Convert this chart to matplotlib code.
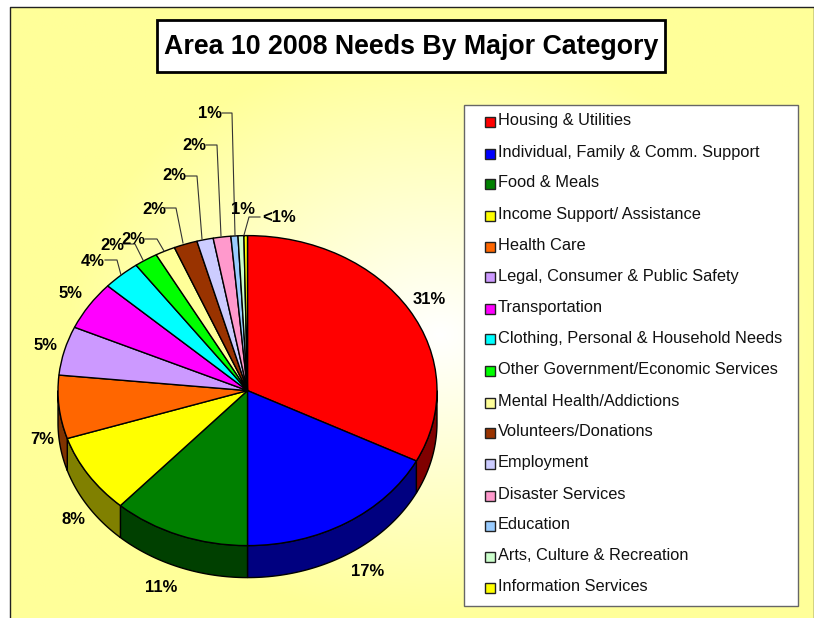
import numpy as np
import matplotlib
matplotlib.use("Agg")
import matplotlib.pyplot as plt
from matplotlib.patches import Rectangle, Polygon

plt.rcParams['font.family'] = ['Liberation Sans', 'DejaVu Sans']

W, H = 814, 618

categories = ["Housing & Utilities", "Individual, Family & Comm. Support", "Food & Meals",
              "Income Support/ Assistance", "Health Care", "Legal, Consumer & Public Safety",
              "Transportation", "Clothing, Personal & Household Needs",
              "Other Government/Economic Services", "Mental Health/Addictions",
              "Volunteers/Donations", "Employment", "Disaster Services", "Education",
              "Arts, Culture & Recreation", "Information Services"]
# slice sizes as drawn (the 3d view of the original stretches them a bit vs. the labels)
values = [32.5, 17.5, 11.7, 8.3, 6.6, 5.1, 5.1, 3.2, 2.0, 1.7, 2.0, 1.4, 1.5, 0.6, 0.5, 0.3]
pct_labels = ["31%", "17%", "11%", "8%", "7%", "5%", "5%", "4%", "2%", "2%", "2%", "2%", "2%", "1%", "1%", "<1%"]
colors = ["#FF0000", "#0000FF", "#008000", "#FFFF00", "#FF6600", "#CC99FF", "#FF00FF", "#00FFFF",
          "#00FF00", "#FFFF99", "#993300", "#CCCCFF", "#FF99CC", "#99CCFF", "#CCFFCC", "#FFFF00"]

# layout, in pixels of the picture
label_xy = [(429, 299), (368, 571), (161, 586), (73, 518), (42, 439), (46, 344), (71, 293), (93, 261),
            (112, 244), (133, 238), (154, 208), (174, 175), (194, 144), (210, 112), (243, 208), (279, 217)]
leaders = [[(105, 260), (117, 260), (121, 275)],
           [(123, 244), (135, 244), (143, 260)],
           [(145, 239), (157, 239), (164, 251)],
           [(165, 208), (176, 208), (183, 243)],
           [(185, 176), (197, 176), (202, 239)],
           [(206, 145), (217, 145), (221, 236)],
           [(222, 113), (232, 113), (235, 235)],
           [(260, 217), (249, 217), (244, 235)]]
legend_y = [119.5, 151.5, 181.5, 213.5, 244.5, 275, 306.5, 337, 368.5, 400.5, 430.5, 462, 493.5, 523.5, 555, 585.5]

cx, cy, rx, ry, depth = 247.5, 390.6, 189.5, 155, 32

fig = plt.figure(figsize=(W / 100, H / 100), dpi=100)
ax = fig.add_axes([0, 0, 1, 1])
ax.set_xlim(0, W)
ax.set_ylim(H, 0)
ax.axis('off')

# background panel with a soft pale yellow to white fill
xx, yy = np.meshgrid(np.linspace(10, W, 400), np.linspace(7, H, 300))
t = np.clip(np.hypot((xx - 440) / 375, (yy - 335) / 290), 0, 1)
grad = np.dstack([np.ones_like(t), np.ones_like(t), 1 - t * 0.4])
ax.imshow(grad, extent=(10, W, H, 7), aspect='auto', zorder=0)
ax.set_xlim(0, W)
ax.set_ylim(H, 0)
ax.plot([9.5, 9.5, 813.5, 813.5], [H, 6.5, 6.5, H], color='#222222', lw=1, zorder=1)

# title box
ax.add_patch(Rectangle((157, 19.5), 508, 52, fc='white', ec='black', lw=2, zorder=2))
ax.text(411, 47, "Area 10 2008 Needs By Major Category", fontsize=19.3, fontweight='bold',
        ha='center', va='center', zorder=3)

# legend box
ax.add_patch(Rectangle((463.5, 105), 334.5, 501, fc='white', ec='#666666', lw=1, zorder=2))
for name, col, y in zip(categories, colors, legend_y):
    ax.add_patch(Rectangle((484.5, y - 3), 10, 10, fc=col, ec='#222222', lw=1, zorder=3))
    ax.text(498, y + 1, name, fontsize=11.8, ha='left', va='center', color='#111111', zorder=3)

# pie, on its own axes stretched into the ellipse
pie_ax = fig.add_axes([(cx - rx) / W, 1 - (cy + ry) / H, 2 * rx / W, 2 * ry / H], zorder=2)
pie_ax.patch.set_alpha(0)
wedges, _ = pie_ax.pie(values, colors=colors, startangle=90, counterclock=False, radius=1,
                       wedgeprops=dict(edgecolor='black', linewidth=1))
pie_ax.set_aspect('auto')
pie_ax.set_xlim(-1, 1)
pie_ax.set_ylim(-1, 1)
pie_ax.axis('off')

# side wall of the lower half
drop = depth / ry
ends = np.cumsum(values) / np.sum(values) * 2 * np.pi
starts = np.r_[0, ends[:-1]]
for a0, a1, col in zip(starts, ends, colors):
    a0, a1 = max(a0, np.pi / 2), min(a1, 3 * np.pi / 2)
    if a1 <= a0:
        continue
    th = np.linspace(a0, a1, 60)
    x, y = np.sin(th), np.cos(th)
    pts = np.r_[np.c_[x, y], np.c_[x[::-1], y[::-1] - drop]]
    dark = tuple(c * 0.5 for c in matplotlib.colors.to_rgb(col))
    pie_ax.add_patch(Polygon(pts, closed=True, fc=dark, ec='black', lw=1, clip_on=False, zorder=0))

# percentage labels and leaders on top of everything
top = fig.add_axes([0, 0, 1, 1], zorder=3)
top.set_xlim(0, W)
top.set_ylim(H, 0)
top.axis('off')
for pts in leaders:
    px, py = zip(*pts)
    top.plot(px, py, color='#333333', lw=0.8)
for txt, (x, y) in zip(pct_labels, label_xy):
    top.text(x, y + 1, txt, fontsize=12, fontweight='bold', ha='center', va='center')

fig.savefig('out.png', dpi=100)
